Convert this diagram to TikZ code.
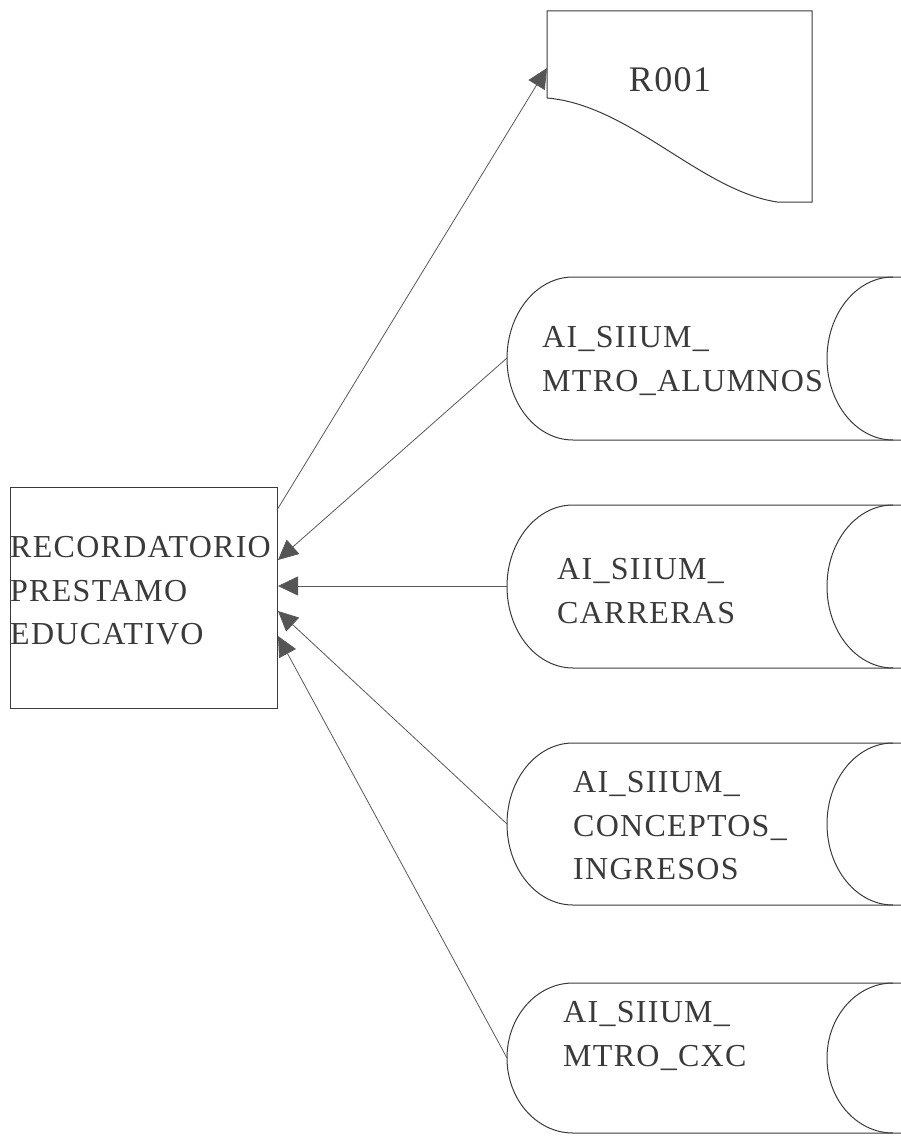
\documentclass[tikz,border=0pt]{standalone}
\usepackage{fontspec}
\setmainfont{Liberation Serif}[LetterSpace=4]
\usetikzlibrary{arrows.meta}
\definecolor{ink}{HTML}{3A3A3A}
\definecolor{tipc}{HTML}{555555}
\tikzset{
  shapeline/.style={draw=ink, line width=1pt},
  flow/.style={draw=ink!85, line width=0.8pt, -{Triangle[length=20pt,width=19pt,fill=tipc]}},
  lbl/.style={inner sep=0pt, text=ink, align=left, anchor=north west, font=\fontsize{32}{43.5}\selectfont},
}
\begin{document}
\begin{tikzpicture}[x=1pt,y=-1pt]
\useasboundingbox (0,0) rectangle (901,1137);
% process box
\node[shapeline, minimum width=267pt, minimum height=221pt, anchor=north west, inner sep=0pt] (P) at (10,487) {};
\node[lbl] (Pt) at (10,536.5) {RECORDATORIO\\PRESTAMO\\EDUCATIVO};
% report document R001
\draw[shapeline] (547,98) -- (547,11) -- (812,11) -- (812,202) -- (777,202)
  .. controls (700,190) and (630,105) .. (547,98);
\node[inner sep=0pt, text=ink, font=\fontsize{36}{40}\selectfont] (R) at (670,80) {R001};
\coordinate (Rin) at (547,68);
% drums
\draw[shapeline] (901,277) -- (573,277) arc[start angle=270, end angle=90, x radius=66, y radius=81.5] -- (901,440);
\draw[shapeline] (893,277) arc[start angle=270, end angle=90, x radius=66, y radius=81.5];
\node[lbl] (D1) at (542,326.5) {AI\_SIIUM\_\\MTRO\_ALUMNOS};
\coordinate (D1o) at (507,358);

\draw[shapeline] (901,505) -- (573,505) arc[start angle=270, end angle=90, x radius=66, y radius=81.5] -- (901,668);
\draw[shapeline] (893,505) arc[start angle=270, end angle=90, x radius=66, y radius=81.5];
\node[lbl] (D2) at (557,558.5) {AI\_SIIUM\_\\CARRERAS};
\coordinate (D2o) at (507,586);

\draw[shapeline] (901,743) -- (573,743) arc[start angle=270, end angle=90, x radius=66, y radius=81] -- (901,905);
\draw[shapeline] (893,743) arc[start angle=270, end angle=90, x radius=66, y radius=81];
\node[lbl] (D3) at (573,771.5) {AI\_SIIUM\_\\CONCEPTOS\_\\INGRESOS};
\coordinate (D3o) at (507,824);

\draw[shapeline] (901,983) -- (573,983) arc[start angle=270, end angle=90, x radius=66, y radius=75] -- (901,1133);
\draw[shapeline] (893,983) arc[start angle=270, end angle=90, x radius=66, y radius=75];
\node[lbl] (D4) at (563,1001.5) {AI\_SIIUM\_\\MTRO\_CXC};
\coordinate (D4o) at (507,1058);

% attachment points on process box
\coordinate (Pout) at (277,510);
\coordinate (Pi1) at (278,560);
\coordinate (Pi2) at (278,586);
\coordinate (Pi3) at (278,611);
\coordinate (Pi4) at (278,636);

% connectors
\draw[flow] (Pout) -- (Rin);
\draw[flow] (D1o) -- (Pi1);
\draw[flow] (D2o) -- (Pi2);
\draw[flow] (D3o) -- (Pi3);
\draw[flow] (D4o) -- (Pi4);
\end{tikzpicture}
\end{document}
